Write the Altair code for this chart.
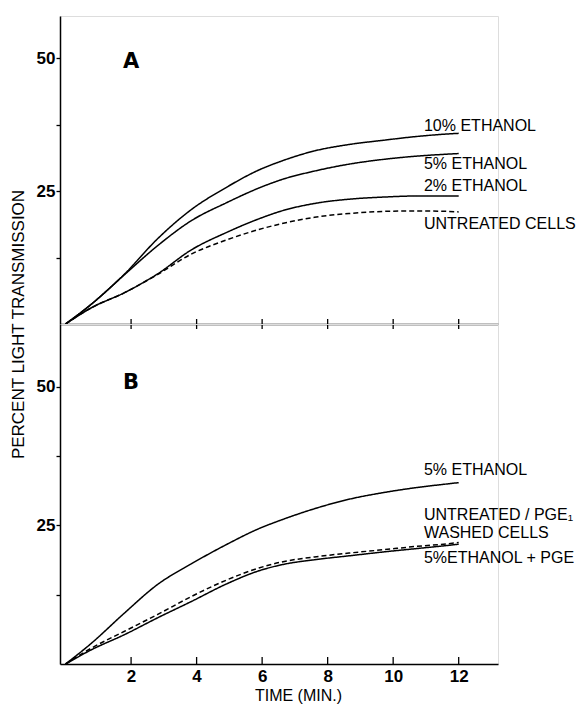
import altair as alt
import pandas as pd

# ---------------- data ----------------
time_pts = [0, 0.8, 1.8, 2.8, 3.85, 4.9, 5.9, 6.6, 7.6, 8.65, 9.7, 10.7, 11.7, 12]

# Panel A
a_eth10 = [0, 3.8, 9.4, 16.0, 21.6, 25.7, 29.0, 30.7, 32.6, 33.8, 34.6, 35.3, 35.8, 35.9]
a_eth5 = [0, 3.8, 9.3, 14.7, 19.5, 22.8, 25.6, 27.2, 28.8, 30.1, 31.0, 31.6, 32.0, 32.1]
a_eth2 = [0, 3.1, 5.9, 9.4, 14.0, 17.2, 19.8, 21.3, 22.7, 23.5, 23.9, 24.1, 24.1, 24.1]
a_untreated = [0, 3.1, 5.9, 9.3, 13.2, 15.8, 17.8, 18.9, 20.1, 20.8, 21.2, 21.3, 21.2, 21.1]

# Panel B
b_eth5 = [0, 3.8, 9.2, 14.3, 18.1, 21.5, 24.4, 26.0, 28.0, 29.7, 30.9, 31.8, 32.5, 32.7]
b_untreated_pge = [0, 2.9, 5.9, 8.9, 12.2, 15.1, 17.3, 18.4, 19.3, 20.0, 20.6, 21.2, 21.7, 21.9]
b_eth5_pge = [0, 2.6, 5.3, 8.3, 11.3, 14.4, 16.8, 17.9, 18.8, 19.5, 20.2, 20.8, 21.4, 21.6]

# annotations
a_labels = ["10% ETHANOL", "5% ETHANOL", "2% ETHANOL", "UNTREATED CELLS"]
a_label_y = [37.3, 30.1, 26.0, 18.9]
b_labels = ["5% ETHANOL", "UNTREATED / PGE\u2081", "WASHED CELLS", "5%ETHANOL + PGE"]
b_label_y = [34.9, 26.9, 23.7, 19.2]
label_x = 10.94

x_ticks = [2, 4, 6, 8, 10, 12]
y_ticks = [12.5, 25, 37.5, 50]

# ---------------- tables ----------------
def long(series):
    rows = []
    for name, vals, dashed in series:
        for t, v in zip(time_pts, vals):
            rows.append({"t": t, "v": v, "series": name, "dashed": dashed})
    return pd.DataFrame(rows)

df_a = long([
    ("10%", a_eth10, "solid"),
    ("5%", a_eth5, "solid"),
    ("2%", a_eth2, "solid"),
    ("untreated", a_untreated, "dash"),
])
df_b = long([
    ("5%", b_eth5, "solid"),
    ("untreated/pge", b_untreated_pge, "dash"),
    ("5%+pge", b_eth5_pge, "solid"),
])
lab_a = pd.DataFrame({"t": [label_x] * len(a_labels), "v": a_label_y, "text": a_labels})
lab_b = pd.DataFrame({"t": [label_x] * len(b_labels), "v": b_label_y, "text": b_labels})
ticks_df = pd.DataFrame({"t": x_ticks})

FONT = "Liberation Sans"
W = 438
HA = 308
HB = 340
xscale = alt.Scale(domain=[-0.17, 13.2], nice=False, zero=False)
ya = alt.Scale(domain=[0, 58], nice=False)
yb = alt.Scale(domain=[0, 61.3], nice=False)
dash_scale = alt.Scale(domain=["solid", "dash"], range=[[1, 0], [5, 3]])
label_expr = "datum.value % 25 == 0 ? datum.label : ''"


def y_axis(with_title):
    kw = dict(
        values=y_ticks, labelExpr=label_expr, grid=False, domainColor="black",
        domainWidth=1.5, tickColor="black", tickWidth=1.3, tickSize=4,
        labelPadding=1, labelFont=FONT, labelFontSize=17, labelFontWeight="bold",
        labelColor="black",
    )
    if with_title:
        kw.update(title="PERCENT LIGHT TRANSMISSION", titleX=-42, titleY=HA,
                  titleAngle=270, titleAlign="center", titleBaseline="middle",
                  titleFont=FONT, titleFontSize=17, titleFontWeight="normal",
                  titleColor="black")
    else:
        kw.update(title="")
    return alt.Axis(**kw)


def panel(df, labs, yscale, H, letter, letter_y, top):
    if top:
        xaxis = alt.Axis(values=x_ticks, domain=True, ticks=False, labels=False, title="",
                         grid=False, domainColor="black", domainWidth=1.5)
    else:
        xaxis = alt.Axis(values=x_ticks, domain=True, ticks=False, grid=False,
                         domainColor="black", domainWidth=1.5,
                         labelFont=FONT, labelFontSize=17, labelFontWeight="bold",
                         labelColor="black", labelPadding=4,
                         title="TIME (MIN.)", titleFont=FONT, titleFontSize=16,
                         titleFontWeight="normal", titleColor="black",
                         titleX=238, titleY=31, titleAlign="center", titleBaseline="middle")
    X = alt.X("t:Q", scale=xscale, axis=xaxis)
    Y = alt.Y("v:Q", scale=yscale, axis=y_axis(top))

    lines = alt.Chart(df).mark_line(color="black", strokeWidth=1.5,
                                    interpolate="monotone").encode(
        x=X, y=Y,
        detail="series:N",
        strokeDash=alt.StrokeDash("dashed:N", scale=dash_scale, legend=None),
    )
    texts = alt.Chart(labs).mark_text(align="left", baseline="middle", font=FONT,
                                      fontSize=16, color="black").encode(
        x=X, y=Y, text="text:N",
    )
    let = alt.Chart(pd.DataFrame({"t": [2.0], "v": [letter_y], "text": [letter]})).mark_text(
        align="center", baseline="middle", font="DejaVu Sans", fontSize=21,
        fontWeight="bold", color="black").encode(
        x=X, y=Y, text="text:N",
    )
    if top:
        y0, y1 = H - 5, H + 5
    else:
        y0, y1 = H - 7, H + 1
    tk = alt.Chart(ticks_df).mark_rule(color="black", strokeWidth=1.3).encode(
        x=X, y=alt.value(y0), y2=alt.value(y1),
    )
    return alt.layer(lines, texts, let, tk).properties(width=W, height=H)


top = panel(df_a, lab_a, ya, HA, "A", 49.3, True)
bottom = panel(df_b, lab_b, yb, HB, "B", 50.6, False)

chart = alt.vconcat(top, bottom, spacing=0, bounds="flush").properties(
    padding={"left": 0, "top": 7, "right": 0, "bottom": 0}
).configure_view(strokeWidth=0, stroke="transparent").configure(background="white")

chart.save("out.html", embed_options={"renderer": "svg", "actions": False})
